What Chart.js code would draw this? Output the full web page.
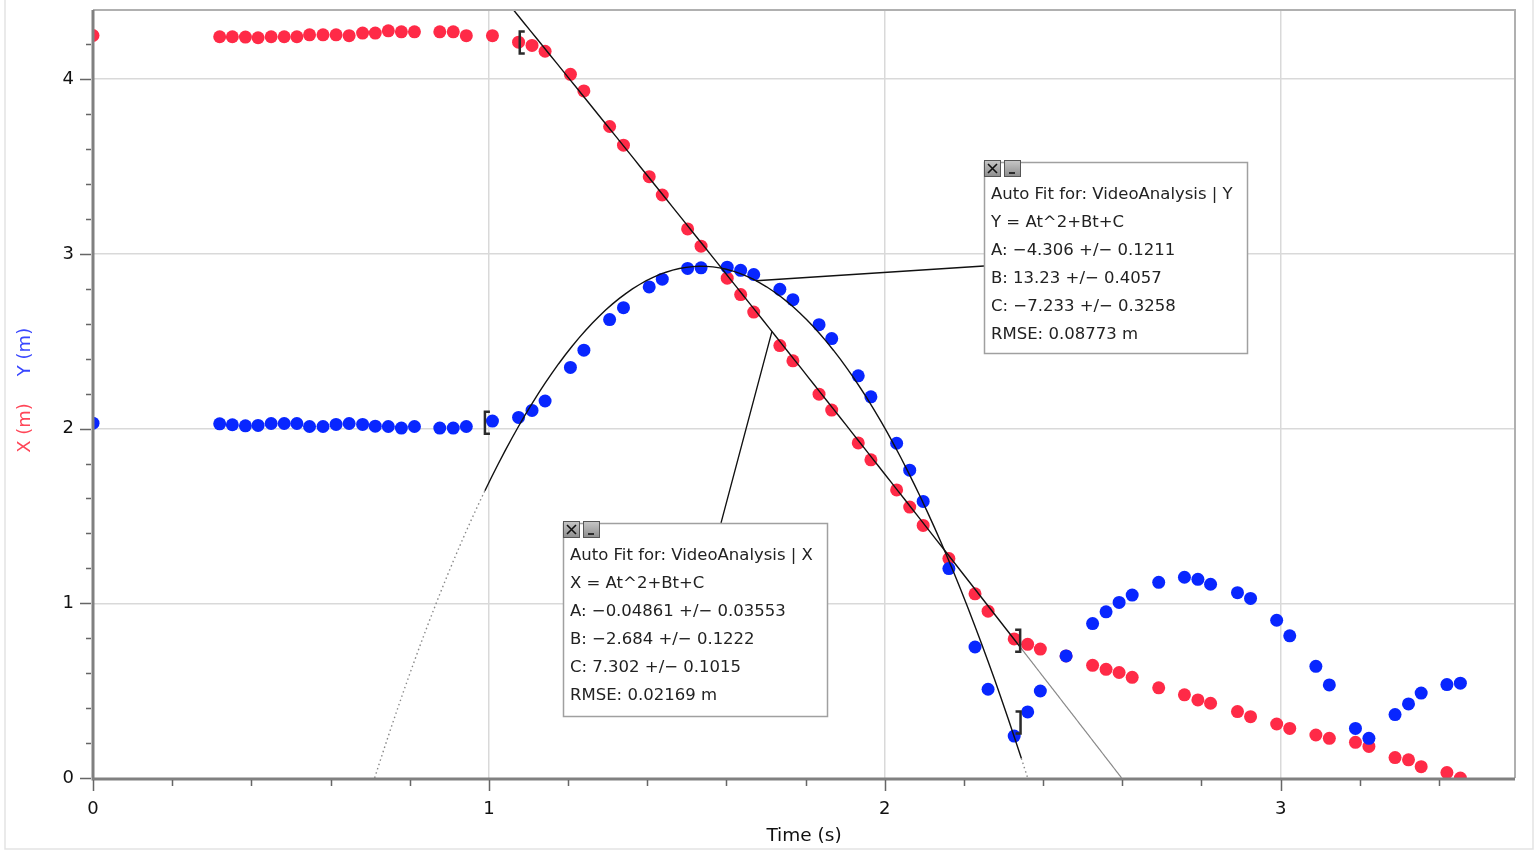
<!DOCTYPE html>
<html>
<head>
<meta charset="utf-8">
<script src="https://cdn.jsdelivr.net/npm/chart.js@4.4.1/dist/chart.umd.min.js"></script>
<style>
  html, body { margin: 0; padding: 0; background: #fff; }
  #wrap { position: relative; width: 1536px; height: 852px; }
</style>
</head>
<body>
<div id="wrap"><canvas id="chart" width="1536" height="852"></canvas></div>
<script>
// === Data ===
const times = [0, 0.320, 0.352, 0.385, 0.417, 0.450, 0.483, 0.515, 0.547, 0.581, 0.614, 0.647, 0.681, 0.713, 0.746, 0.779, 0.812,
  0.876, 0.910, 0.943, 1.009, 1.075, 1.109, 1.142, 1.206, 1.240, 1.305, 1.340, 1.405, 1.438, 1.502, 1.536,
  1.602, 1.636, 1.669, 1.735, 1.768, 1.834, 1.866, 1.933, 1.965, 2.030, 2.063, 2.097, 2.162, 2.228, 2.261,
  2.327, 2.361, 2.393, 2.458, 2.525, 2.559, 2.592, 2.625, 2.692, 2.757, 2.791, 2.823, 2.891, 2.924,
  2.990, 3.023, 3.089, 3.123, 3.189, 3.223, 3.289, 3.323, 3.355, 3.420, 3.454];

const xPos = [4.250, 4.243, 4.243, 4.241, 4.237, 4.243, 4.243, 4.243, 4.254, 4.254, 4.254, 4.249, 4.264, 4.264, 4.277, 4.271, 4.271,
  4.271, 4.271, 4.249, 4.249, 4.212, 4.193, 4.160, 4.028, 3.933, 3.729, 3.622, 3.442, 3.337, 3.143, 3.044,
  2.861, 2.767, 2.667, 2.475, 2.388, 2.197, 2.106, 1.918, 1.821, 1.649, 1.551, 1.446, 1.256, 1.054, 0.955,
  0.796, 0.765, 0.738, 0.699, 0.645, 0.622, 0.604, 0.576, 0.516, 0.476, 0.447, 0.428, 0.380, 0.351,
  0.309, 0.284, 0.246, 0.227, 0.204, 0.181, 0.117, 0.104, 0.065, 0.031, 0.000];

const yPos = [2.031, 2.027, 2.022, 2.016, 2.018, 2.029, 2.029, 2.029, 2.012, 2.012, 2.024, 2.029, 2.024, 2.014, 2.012, 2.003, 2.012,
  2.003, 2.003, 2.012, 2.043, 2.064, 2.104, 2.158, 2.350, 2.449, 2.624, 2.692, 2.811, 2.855, 2.917, 2.920,
  2.924, 2.906, 2.882, 2.797, 2.738, 2.595, 2.515, 2.302, 2.182, 1.916, 1.762, 1.583, 1.199, 0.750, 0.508,
  0.240, 0.378, 0.498, 0.699, 0.884, 0.951, 1.005, 1.047, 1.120, 1.149, 1.137, 1.109, 1.061, 1.028,
  0.903, 0.814, 0.639, 0.533, 0.284, 0.227, 0.363, 0.424, 0.486, 0.535, 0.543];

const xTickLabels = [0, 1, 2, 3];
const yTickLabels = [0, 1, 2, 3, 4];

// fit coefficients shown in the callouts (A, B, C)
const xFitCoef = [-0.04861, -2.684, 7.302];
const yFitCoef = [-4.306, 13.23, -7.233];
const xFitRange = [1.04, 2.342];
const xFitTail = [2.342, 2.598];
const yFitRange = [0.99, 2.345];
const yFitDotLeft = [0.7115, 0.99];
const yFitDotRight = [2.345, 2.362];

const xFitText = ['Auto Fit for: VideoAnalysis | X', 'X = At^2+Bt+C', 'A: \u22120.04861 +/\u2212 0.03553',
  'B: \u22122.684 +/\u2212 0.1222', 'C: 7.302 +/\u2212 0.1015', 'RMSE: 0.02169 m'];
const yFitText = ['Auto Fit for: VideoAnalysis | Y', 'Y = At^2+Bt+C', 'A: \u22124.306 +/\u2212 0.1211',
  'B: 13.23 +/\u2212 0.4057', 'C: \u22127.233 +/\u2212 0.3258', 'RMSE: 0.08773 m'];

// fit range brackets [t, value, side]
const brackets = [[1.078, 4.21, '['], [2.342, 0.786, ']'], [0.99, 2.033, '['], [2.343, 0.317, ']']];

const RED = '#ff2a47';
const BLUE = '#0826ff';
const FONT = '"DejaVu Sans", "Lucida Grande", sans-serif';

function quad(c, t) { return c[0] * t * t + c[1] * t + c[2]; }
function fitCurve(c, range) {
  const pts = [];
  const n = 80;
  for (let i = 0; i <= n; i++) {
    const t = range[0] + (range[1] - range[0]) * i / n;
    pts.push({ x: t, y: quad(c, t) });
  }
  return pts;
}
const isInt = v => Math.abs(v - Math.round(v)) < 1e-6;

// === overlay: axes, ticks, titles, brackets, callouts ===
function drawBox(c, b, lines) {
  c.save();
  c.fillStyle = '#fff';
  c.fillRect(b.left, b.top, b.w, b.h);
  c.strokeStyle = '#a0a0a0';
  c.lineWidth = 1.5;
  c.strokeRect(b.left + 0.5, b.top + 0.5, b.w, b.h);
  // close / minimize buttons
  [0, 20].forEach((dx, k) => {
    const bx = b.left + dx, by = b.top - 2;
    const g = c.createLinearGradient(0, by, 0, by + 17);
    g.addColorStop(0, '#c8c8c8'); g.addColorStop(1, '#8c8c8c');
    c.fillStyle = g;
    c.fillRect(bx, by, 17, 17);
    c.strokeStyle = '#555'; c.lineWidth = 1;
    c.strokeRect(bx + 0.5, by + 0.5, 16, 16);
    c.strokeStyle = '#111'; c.lineWidth = 1.6;
    c.beginPath();
    if (k === 0) {
      c.moveTo(bx + 4, by + 4); c.lineTo(bx + 13, by + 13);
      c.moveTo(bx + 13, by + 4); c.lineTo(bx + 4, by + 13);
    } else {
      c.moveTo(bx + 5, by + 13); c.lineTo(bx + 11, by + 13);
    }
    c.stroke();
  });
  c.fillStyle = '#222';
  c.font = '16.5px ' + FONT;
  c.textAlign = 'left';
  c.textBaseline = 'middle';
  lines.forEach((s, i) => c.fillText(s, b.left + 7, b.top + 33 + i * 28));
  c.restore();
}

const overlay = {
  id: 'overlay',
  beforeDraw(chart) {
    const c = chart.ctx;
    c.save();
    c.strokeStyle = '#e3e3e3';
    c.lineWidth = 1.5;
    c.strokeRect(5, -2, 1528, 851);
    c.restore();
  },
  afterDatasetsDraw(chart) {
    const c = chart.ctx, a = chart.chartArea;
    const xs = chart.scales.x, ys = chart.scales.y;
    c.save();
    // plot frame
    c.strokeStyle = '#b0b0b0'; c.lineWidth = 2;
    c.beginPath();
    c.moveTo(a.left, a.top); c.lineTo(a.right, a.top); c.lineTo(a.right, a.bottom);
    c.stroke();
    c.strokeStyle = '#808080'; c.lineWidth = 3;
    c.beginPath();
    c.moveTo(a.left, a.top); c.lineTo(a.left, a.bottom + 1); c.lineTo(a.right, a.bottom + 1);
    c.stroke();
    // tick marks every 0.2
    c.strokeStyle = '#666'; c.lineWidth = 1.5;
    c.beginPath();
    for (let k = 0; k * 0.2 <= xs.max + 1e-9; k++) {
      const px = Math.round(xs.getPixelForValue(k * 0.2)) + 0.5;
      const len = k % 5 === 0 ? 11 : 6;
      c.moveTo(px, a.bottom + 2); c.lineTo(px, a.bottom + 2 + len);
    }
    for (let k = 0; k * 0.2 <= ys.max + 1e-9; k++) {
      const py = Math.round(ys.getPixelForValue(k * 0.2)) + 0.5;
      const len = k % 5 === 0 ? 11 : 5;
      c.moveTo(a.left - 2, py); c.lineTo(a.left - 2 - len, py);
    }
    c.stroke();

    // brackets at the ends of the fit ranges
    c.strokeStyle = '#2a2a2a'; c.lineWidth = 2.5;
    brackets.forEach(([t, v, side]) => {
      const px = xs.getPixelForValue(t), py = ys.getPixelForValue(v);
      const d = side === '[' ? 5 : -5;
      c.beginPath();
      c.moveTo(px + d, py - 11); c.lineTo(px, py - 11); c.lineTo(px, py + 11); c.lineTo(px + d, py + 11);
      c.stroke();
    });

    // callout connectors
    c.strokeStyle = '#111'; c.lineWidth = 1.3;
    c.beginPath();
    c.moveTo(984, 266);
    c.lineTo(xs.getPixelForValue(1.675), ys.getPixelForValue(quad(yFitCoef, 1.675)));
    c.moveTo(721, 523);
    c.lineTo(xs.getPixelForValue(1.715), ys.getPixelForValue(quad(xFitCoef, 1.715)));
    c.stroke();
    c.restore();

    drawBox(c, { left: 984, top: 162, w: 263, h: 191 }, yFitText);
    drawBox(c, { left: 563, top: 523, w: 264, h: 193 }, xFitText);

    // axis titles
    c.save();
    c.font = '18.5px ' + FONT;
    c.fillStyle = '#111';
    c.textAlign = 'center';
    c.textBaseline = 'middle';
    c.fillText('Time (s)', (a.left + a.right) / 2, 836);
    c.translate(25, 0);
    c.rotate(-Math.PI / 2);
    c.font = '18px ' + FONT;
    c.fillStyle = '#ff4658';
    c.fillText('X (m)', -428, 0);
    c.fillStyle = '#3846ff';
    c.fillText('Y (m)', -352, 0);
    c.restore();
  }
};

// === Chart ===
const ctx = document.getElementById('chart').getContext('2d');
new Chart(ctx, {
  type: 'scatter',
  data: {
    datasets: [
      { data: fitCurve(xFitCoef, xFitRange), showLine: true, borderColor: '#111', borderWidth: 1.4, pointRadius: 0 },
      { data: fitCurve(xFitCoef, xFitTail), showLine: true, borderColor: '#8a8a8a', borderWidth: 1.2, pointRadius: 0 },
      { data: fitCurve(yFitCoef, yFitRange), showLine: true, borderColor: '#111', borderWidth: 1.4, pointRadius: 0 },
      { data: fitCurve(yFitCoef, yFitDotLeft), showLine: true, borderColor: '#888', borderWidth: 1.4, borderDash: [1.5, 3], pointRadius: 0 },
      { data: fitCurve(yFitCoef, yFitDotRight), showLine: true, borderColor: '#888', borderWidth: 1.4, borderDash: [1.5, 3], pointRadius: 0 },
      { label: 'Y (m)', data: times.map((t, i) => ({ x: t, y: yPos[i] })), pointRadius: 6.5, borderWidth: 0,
        pointBackgroundColor: BLUE, pointBorderColor: BLUE },
      { label: 'X (m)', data: times.map((t, i) => ({ x: t, y: xPos[i] })), pointRadius: 6.5, borderWidth: 0,
        pointBackgroundColor: RED, pointBorderColor: RED }
    ]
  },
  options: {
    responsive: false,
    animation: false,
    devicePixelRatio: 1,
    layout: { padding: { left: 0, top: 10, right: 21, bottom: 0 } },
    plugins: { legend: { display: false }, tooltip: { enabled: false } },
    scales: {
      x: {
        type: 'linear', min: 0, max: 3.592,
        afterFit: s => { s.height = 74; s.paddingLeft = 0; s.paddingRight = 0; },
        border: { display: false },
        grid: { drawTicks: false, lineWidth: 1.5,
          color: c => (c.tick && isInt(c.tick.value) && c.tick.value > 0 ? '#d9d9d9' : 'rgba(0,0,0,0)') },
        ticks: { stepSize: 0.2, autoSkip: false, maxRotation: 0, padding: 21, color: '#111',
          font: { family: FONT, size: 18 },
          callback: v => (xTickLabels.some(l => Math.abs(l - v) < 1e-6) ? String(Math.round(v)) : '') }
      },
      y: {
        type: 'linear', min: 0, max: 4.396,
        afterFit: s => { s.width = 93; s.paddingTop = 0; s.paddingBottom = 0; },
        border: { display: false },
        grid: { drawTicks: false, lineWidth: 1.5,
          color: c => (c.tick && isInt(c.tick.value) && c.tick.value > 0 ? '#d9d9d9' : 'rgba(0,0,0,0)') },
        ticks: { stepSize: 0.2, autoSkip: false, padding: 19, color: '#111',
          font: { family: FONT, size: 18 },
          callback: v => (yTickLabels.some(l => Math.abs(l - v) < 1e-6) ? String(Math.round(v)) : '') }
      }
    }
  },
  plugins: [overlay]
});
</script>
</body>
</html>
